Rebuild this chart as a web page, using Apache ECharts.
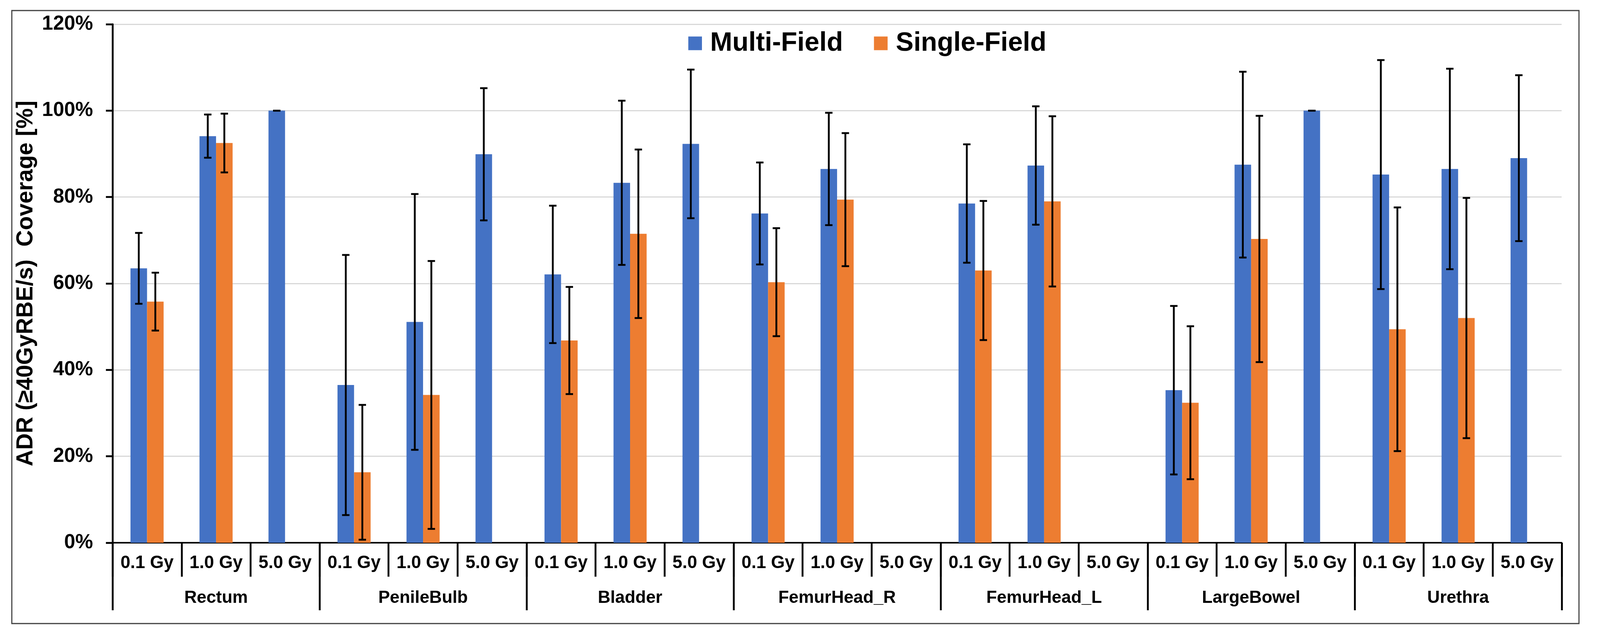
<!DOCTYPE html>
<html>
<head>
<meta charset="utf-8">
<style>
html,body{margin:0;padding:0;background:#fff;overflow:hidden;}
#chart{width:100vw;height:100vh;}
</style>
<script src="https://cdn.jsdelivr.net/npm/echarts@6/dist/echarts.min.js"></script>
</head>
<body>
<div id="chart"></div>
<script>
var organs = ['Rectum','PenileBulb','Bladder','FemurHead_R','FemurHead_L','LargeBowel','Urethra'];
var doses = ['0.1 Gy','1.0 Gy','5.0 Gy'];
var yTicks = [0,20,40,60,80,100,120];

var multiMean = [63.5, 94.1, 100.0, 36.5, 51.1, 89.9, 62.1, 83.3, 92.3, 76.2, 86.5, null, 78.5, 87.3, null, 35.3, 87.5, 100.0, 85.2, 86.5, 89.0];
var multiSD   = [8.2, 5.0, 0.0, 30.1, 29.6, 15.3, 15.9, 19.0, 17.2, 11.8, 13.0, null, 13.7, 13.7, null, 19.5, 21.5, 0.0, 26.5, 23.2, 19.2];
var singleMean = [55.8, 92.5, null, 16.3, 34.2, null, 46.8, 71.5, null, 60.3, 79.4, null, 63.0, 79.0, null, 32.4, 70.3, null, 49.4, 52.0, null];
var singleSD   = [6.7, 6.8, null, 15.6, 31.0, null, 12.4, 19.5, null, 12.5, 15.4, null, 16.1, 19.7, null, 17.7, 28.5, null, 28.2, 27.8, null];

var categories = [];
organs.forEach(function(){ doses.forEach(function(d){ categories.push(d); }); });

var el = document.getElementById('chart');
var W = el.clientWidth || window.innerWidth, H = el.clientHeight || window.innerHeight;
var sx = W / 4336, sy = H / 1634, s = Math.min(sx, sy);

function errData(mean, sd){
  var out = [];
  for (var i = 0; i < mean.length; i++) {
    if (mean[i] == null) continue;
    out.push([i, mean[i] - sd[i], mean[i] + sd[i]]);
  }
  return out;
}

function errRender(offsetFrac){
  return function(params, api){
    var x = api.value(0);
    var lo = api.coord([x, api.value(1)]);
    var hi = api.coord([x, api.value(2)]);
    var bw = api.size([1, 0])[0];
    var cx = lo[0] + offsetFrac * bw;
    var half = 10 * s;
    var st = {stroke:'#000', lineWidth:5 * s};
    return {type:'group', children:[
      {type:'line', shape:{x1:cx, y1:hi[1], x2:cx, y2:lo[1]}, style:st},
      {type:'line', shape:{x1:cx-half, y1:hi[1], x2:cx+half, y2:hi[1]}, style:st},
      {type:'line', shape:{x1:cx-half, y1:lo[1], x2:cx+half, y2:lo[1]}, style:st}
    ]};
  };
}

var FONT = '"Liberation Sans", Arial, Helvetica, sans-serif';
var chart = echarts.init(el, null, {renderer:'canvas', width:W, height:H});
chart.setOption({
  backgroundColor:'#ffffff',
  animation:false,
  textStyle:{fontFamily:FONT},
  graphic:[{
    type:'rect', silent:true, z:-1,
    shape:{x:32*sx, y:27*sy, width:4247*sx, height:1570*sy},
    style:{fill:'none', stroke:'#404040', lineWidth:3*s}
  }],
  legend:{
    data:['Multi-Field','Single-Field'],
    left:1860*sx, top:72*sy,
    itemWidth:37*s, itemHeight:37*s, itemGap:84*sx,
    icon:'rect',
    textStyle:{fontSize:72*s, fontWeight:'bold', color:'#000', fontFamily:FONT, padding:[0,0,0,17*s]}
  },
  grid:{left:305*sx, right:104*sx, top:62*sy, bottom:244*sy, containLabel:false},
  xAxis:[{
    type:'category', data:categories, position:'bottom',
    axisLine:{show:true, lineStyle:{color:'#000', width:4*s}},
    axisTick:{show:true, interval:0, length:87*sy, lineStyle:{color:'#000', width:5*s}},
    axisLabel:{interval:0, fontSize:48*s, fontWeight:'bold', color:'#000', margin:30*sy, fontFamily:FONT},
    splitLine:{show:false}
  },{
    type:'category', data:organs, position:'bottom',
    axisLine:{show:false},
    axisTick:{show:true, interval:0, length:173*sy, lineStyle:{color:'#000', width:5*s}},
    axisLabel:{interval:0, fontSize:47*s, fontWeight:'bold', color:'#000', margin:120*sy, fontFamily:FONT},
    splitLine:{show:false}
  }],
  yAxis:{
    type:'value', min:yTicks[0], max:yTicks[yTicks.length-1], interval:20,
    name:'ADR (≥40GyRBE/s)  Coverage [%]',
    nameLocation:'middle', nameGap:190*sx,
    nameTextStyle:{fontSize:62*s, fontWeight:'bold', color:'#000', fontFamily:FONT},
    axisLine:{show:true, lineStyle:{color:'#000', width:5*s}},
    axisTick:{show:true, length:18*sx, lineStyle:{color:'#000', width:5*s}},
    axisLabel:{formatter:'{value}%', fontSize:54*s, fontWeight:'bold', color:'#000', margin:53*sx, fontFamily:FONT},
    splitLine:{show:true, lineStyle:{color:'#d9d9d9', width:3*s}}
  },
  series:[{
    name:'Multi-Field', type:'bar', data:multiMean,
    barGap:'0%', barCategoryGap:'52%',
    itemStyle:{color:'#4472C4'}
  },{
    name:'Single-Field', type:'bar', data:singleMean,
    barGap:'0%', barCategoryGap:'52%',
    itemStyle:{color:'#ED7D31'}
  },{
    name:'Multi-Field error', type:'custom', renderItem:errRender(-0.12),
    data:errData(multiMean, multiSD), encode:{x:0, y:[1,2]}, z:10
  },{
    name:'Single-Field error', type:'custom', renderItem:errRender(0.12),
    data:errData(singleMean, singleSD), encode:{x:0, y:[1,2]}, z:10
  }]
});
</script>
</body>
</html>
